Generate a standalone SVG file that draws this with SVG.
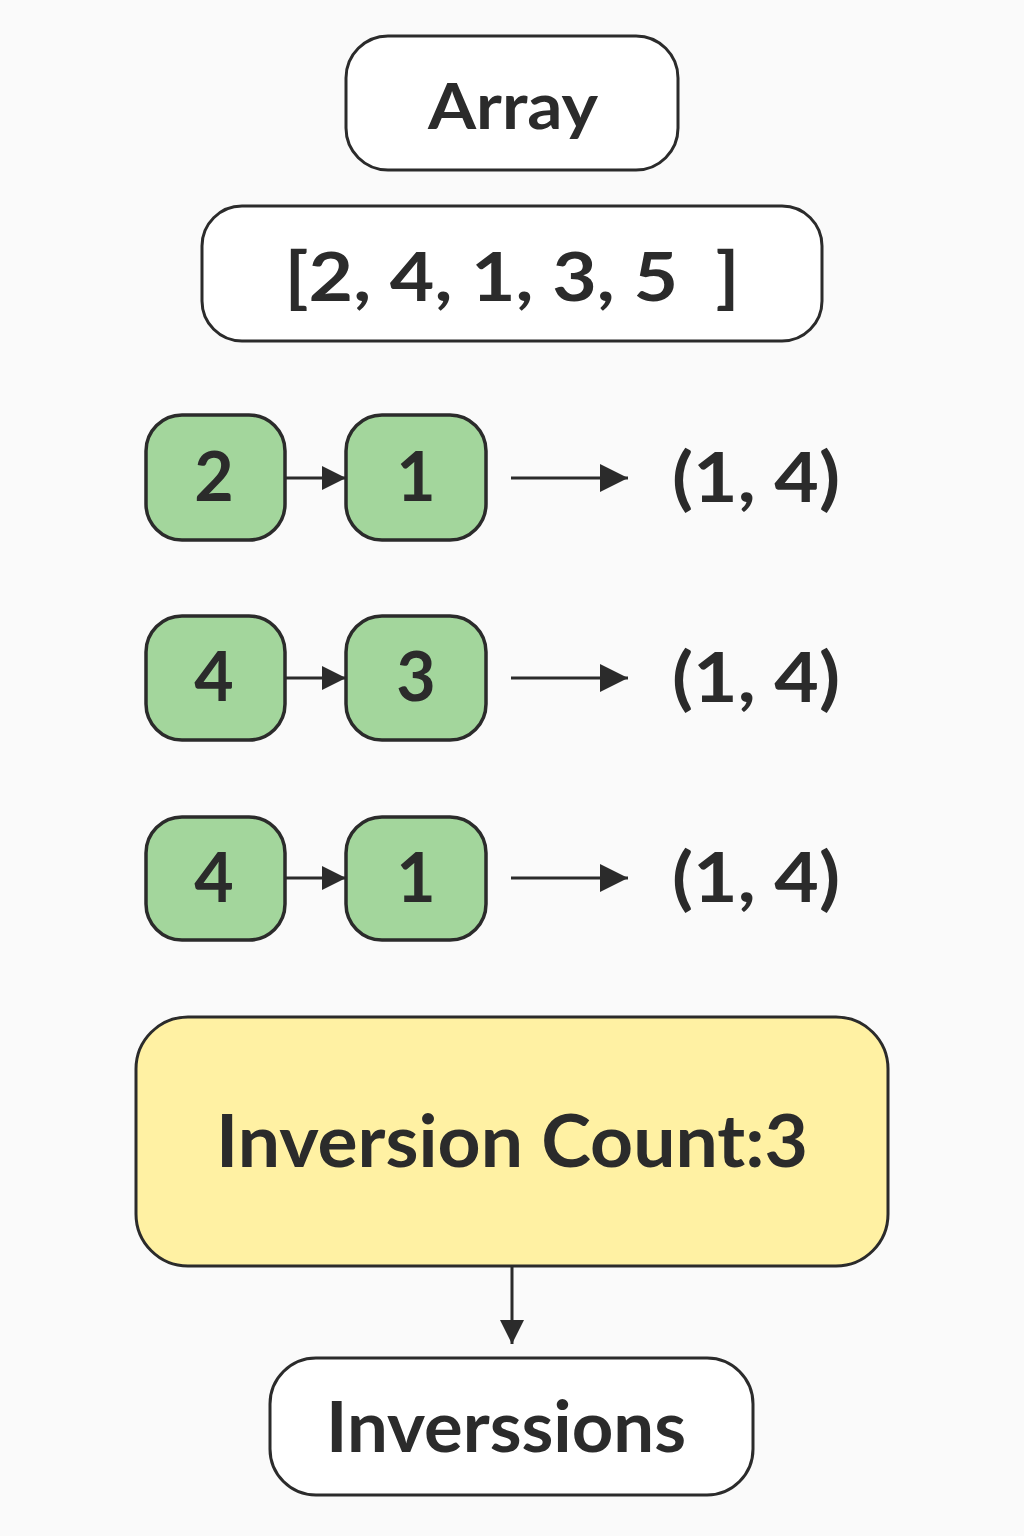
<svg xmlns="http://www.w3.org/2000/svg" width="1024" height="1536" viewBox="0 0 1024 1536">
<style>
.box{fill:#ffffff;stroke:#2b2b2b;stroke-width:3}
.green{fill:#a3d69c;stroke:#2b2b2b;stroke-width:3.5}
.yellow{fill:#fff1a3;stroke:#2b2b2b;stroke-width:3}
.t{font-family:Lato,"Open Sans","Liberation Sans",sans-serif;font-weight:bold;fill:#2b2b2b;text-anchor:middle}
.edge{stroke:#2b2b2b;stroke-width:3;fill:none}
</style>
<defs>
<marker id="ahs" viewBox="0 0 10 10" refX="10" refY="5" markerWidth="28" markerHeight="24" markerUnits="userSpaceOnUse" orient="auto">
<path d="M0,0 L10,5 L0,10 z" fill="#2b2b2b"/>
</marker>
<marker id="ahl" viewBox="0 0 10 10" refX="10" refY="5" markerWidth="28" markerHeight="32" markerUnits="userSpaceOnUse" orient="auto">
<path d="M0,0 L10,5 L0,10 z" fill="#2b2b2b"/>
</marker>
</defs>
<rect width="1024" height="1536" fill="#fafafa"/>
<g id="array">
<rect class="box" x="346" y="36" width="332" height="134" rx="42"/>
<text class="t" x="513" y="129" font-size="64" textLength="170" lengthAdjust="spacingAndGlyphs">Array</text>
</g>
<g id="list">
<rect class="box" x="202" y="206" width="620" height="135" rx="40"/>
<text class="t" x="512" y="301" font-size="66" xml:space="preserve" textLength="455" lengthAdjust="spacingAndGlyphs">[2, 4, 1, 3, 5  ]</text>
</g>
<g id="n2a"><rect class="green" x="146" y="415" width="139" height="125" rx="36"/><text class="t" x="214" y="501" font-size="68">2</text></g>
<g id="n1a"><rect class="green" x="346" y="415" width="140" height="125" rx="36"/><text class="t" x="416" y="501" font-size="68">1</text></g>
<g id="p1"><text class="t" x="756" y="502" font-size="68" textLength="168" lengthAdjust="spacingAndGlyphs">(1, 4)</text></g>
<g id="n4b"><rect class="green" x="146" y="616" width="139" height="124" rx="36"/><text class="t" x="214" y="701" font-size="68">4</text></g>
<g id="n3b"><rect class="green" x="346" y="616" width="140" height="124" rx="36"/><text class="t" x="416" y="701" font-size="68">3</text></g>
<g id="p2"><text class="t" x="756" y="702" font-size="68" textLength="168" lengthAdjust="spacingAndGlyphs">(1, 4)</text></g>
<g id="n4c"><rect class="green" x="146" y="817" width="139" height="123" rx="36"/><text class="t" x="214" y="902" font-size="68">4</text></g>
<g id="n1c"><rect class="green" x="346" y="817" width="140" height="123" rx="36"/><text class="t" x="416" y="902" font-size="68">1</text></g>
<g id="p3"><text class="t" x="756" y="902" font-size="68" textLength="168" lengthAdjust="spacingAndGlyphs">(1, 4)</text></g>
<g id="count">
<rect class="yellow" x="136" y="1017" width="752" height="249" rx="52"/>
<text class="t" x="512" y="1167" font-size="72" textLength="592" lengthAdjust="spacingAndGlyphs">Inversion Count:3</text>
</g>
<g id="inv">
<rect class="box" x="270" y="1358" width="483" height="137" rx="46"/>
<text class="t" x="506" y="1452" font-size="70" textLength="360" lengthAdjust="spacingAndGlyphs">Inverssions</text>
</g>
<g id="connectors">
<line class="edge" x1="285" y1="478" x2="346" y2="478" marker-end="url(#ahs)"/>
<line class="edge" x1="285" y1="678" x2="346" y2="678" marker-end="url(#ahs)"/>
<line class="edge" x1="285" y1="878" x2="346" y2="878" marker-end="url(#ahs)"/>
<line class="edge" x1="511" y1="478" x2="628" y2="478" marker-end="url(#ahl)"/>
<line class="edge" x1="511" y1="678" x2="628" y2="678" marker-end="url(#ahl)"/>
<line class="edge" x1="511" y1="878" x2="628" y2="878" marker-end="url(#ahl)"/>
<line class="edge" x1="512" y1="1266" x2="512" y2="1344" marker-end="url(#ahs)"/>
</g>
</svg>
